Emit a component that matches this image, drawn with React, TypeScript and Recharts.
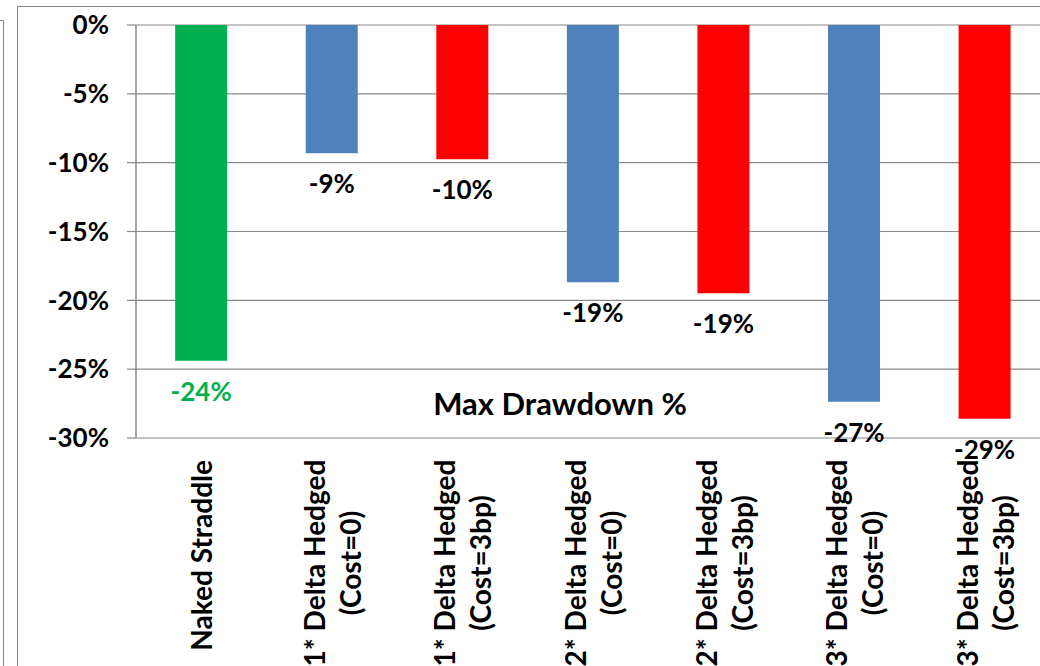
import { Bar, BarChart, CartesianGrid, Cell, LabelList, XAxis, YAxis } from 'recharts';

const names = ['naked', 'd1c0', 'd1c3', 'd2c0', 'd2c3', 'd3c0', 'd3c3'];
const labelLine1 = [
  'Naked Straddle',
  '1* Delta Hedged',
  '1* Delta Hedged',
  '2* Delta Hedged',
  '2* Delta Hedged',
  '3* Delta Hedged',
  '3* Delta Hedged',
];
const labelLine2 = ['', '(Cost=0)', '(Cost=3bp)', '(Cost=0)', '(Cost=3bp)', '(Cost=0)', '(Cost=3bp)'];
const maxDrawdown = [-24.38, -9.32, -9.76, -18.69, -19.48, -27.36, -28.6];
const barColors = ['#00b050', '#4f81bd', '#ff0000', '#4f81bd', '#ff0000', '#4f81bd', '#ff0000'];
const yTicks = [0, -5, -10, -15, -20, -25, -30];

const data = names.map((name, i) => ({ name, value: maxDrawdown[i] }));

const GRID = '#8a8a8a';
const FONT = 'Lato, "Open Sans", sans-serif';

function BoundaryTick(props: any) {
  const { x, y, payload } = props;
  const half = payload?.offset ?? 65.3;
  const left = x - half;
  return <line x1={left} x2={left} y1={y} y2={y + 8} stroke={GRID} strokeWidth={1.5} />;
}

function CategoryTick(props: any) {
  const { x, payload } = props;
  const i = names.indexOf(payload.value);
  const style = { fontSize: 28, fontWeight: 700, fill: '#000' };
  if (!labelLine2[i]) {
    return (
      <text transform={`translate(${x},460) rotate(-90)`} textAnchor="end" dominantBaseline="central" {...style}>
        {labelLine1[i]}
      </text>
    );
  }
  return (
    <g>
      <text transform={`translate(${x - 18},563) rotate(-90)`} textAnchor="middle" dominantBaseline="central" {...style}>
        {labelLine1[i]}
      </text>
      <text transform={`translate(${x + 18},563) rotate(-90)`} textAnchor="middle" dominantBaseline="central" {...style}>
        {labelLine2[i]}
      </text>
    </g>
  );
}

function DrawdownLabel(props: any) {
  const { x, y, width, height, value, index } = props;
  const bottom = Math.max(Number(y), Number(y) + Number(height));
  return (
    <text
      x={Number(x) + Number(width) / 2}
      y={bottom + 30}
      textAnchor="middle"
      dominantBaseline="central"
      fontSize={26}
      fontWeight={700}
      fill={index === 0 ? '#00b050' : '#000'}
    >
      {Math.round(Number(value))}%
    </text>
  );
}

export default function App() {
  return (
    <div
      style={{
        position: 'fixed',
        left: 0,
        top: 0,
        width: 1040,
        height: 666,
        overflow: 'hidden',
        background: '#fff',
        fontFamily: FONT,
      }}
    >
      <div
        style={{
          position: 'absolute',
          left: -100,
          top: 20,
          width: 103,
          height: 700,
          borderTop: `1px solid ${GRID}`,
          borderRight: `1px solid ${GRID}`,
        }}
      />
      <div
        style={{
          position: 'absolute',
          left: 17,
          top: 6,
          width: 1100,
          height: 700,
          border: `1px solid ${GRID}`,
        }}
      />
      <div style={{ position: 'absolute', left: 0, top: 0 }}>
        <BarChart
          width={1050}
          height={678}
          data={data}
          margin={{ top: 25, right: 0, left: 0, bottom: 0 }}
          barCategoryGap="30%"
        >
          <CartesianGrid vertical={false} stroke={GRID} strokeWidth={1.2} />
          <XAxis
            xAxisId="top"
            dataKey="name"
            orientation="top"
            height={0}
            axisLine={{ stroke: GRID, strokeWidth: 1.5 }}
            tickLine={false}
            tickSize={0}
            tickMargin={0}
            tick={<BoundaryTick />}
            interval={0}
          />
          <XAxis
            dataKey="name"
            height={240}
            axisLine={false}
            tickLine={false}
            tick={<CategoryTick />}
            interval={0}
          />
          <YAxis
            width={136}
            domain={[-30, 0]}
            ticks={yTicks}
            allowDataOverflow
            tickFormatter={(v: number) => `${v}%`}
            axisLine={{ stroke: GRID, strokeWidth: 1.5 }}
            tickLine={{ stroke: GRID, strokeWidth: 1.2 }}
            tickSize={9}
            tickMargin={18}
            tick={{ fill: '#000', fontSize: 26, fontWeight: 700 }}
          />
          <Bar dataKey="value" isAnimationActive={false}>
            {data.map((d, i) => (
              <Cell key={d.name} fill={barColors[i]} />
            ))}
            <LabelList dataKey="value" content={<DrawdownLabel />} />
          </Bar>
        </BarChart>
      </div>
      <div
        style={{
          position: 'absolute',
          left: 400,
          top: 384,
          width: 320,
          textAlign: 'center',
          fontSize: 31,
          fontWeight: 700,
          color: '#000',
          lineHeight: '38px',
        }}
      >
        Max Drawdown %
      </div>
    </div>
  );
}
